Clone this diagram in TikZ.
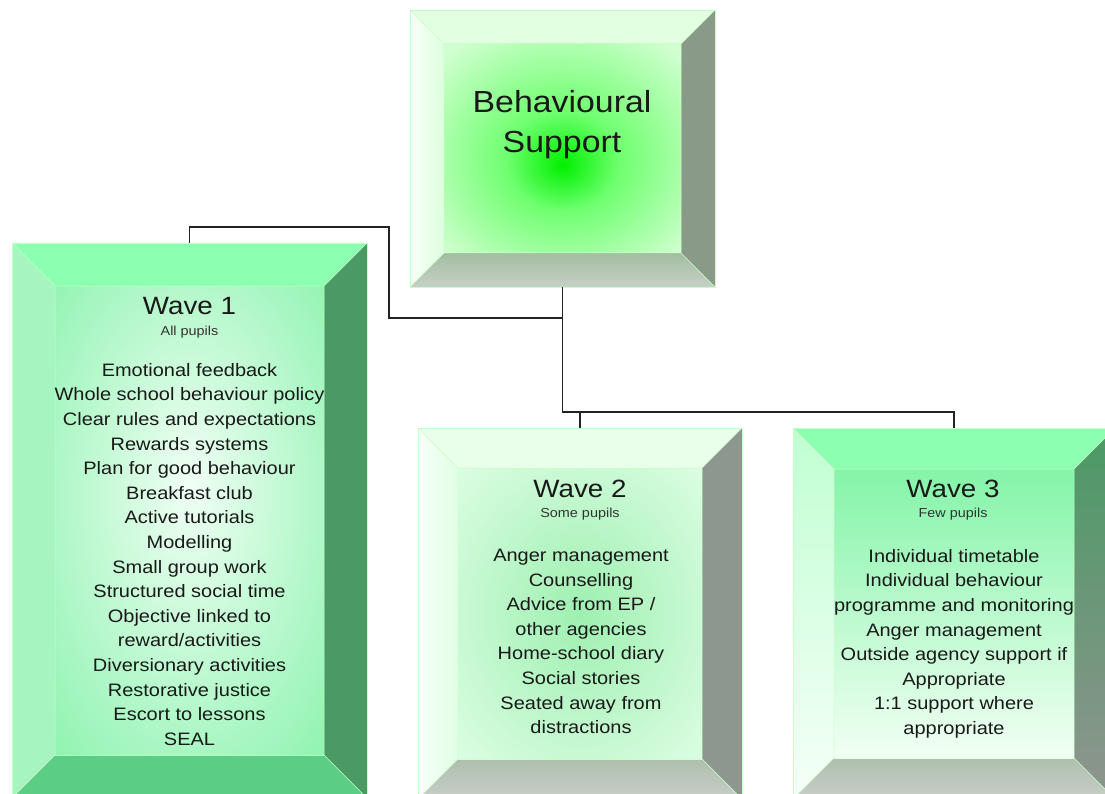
\documentclass[tikz,border=0pt]{standalone}
\usepackage{fontspec}
\setmainfont[FakeStretch=1.11]{Liberation Sans}
\usetikzlibrary{calc}

% Colours
\definecolor{boxedge}{HTML}{C6FFC6}
\definecolor{linkgray}{HTML}{222222}
\definecolor{bsTop}{HTML}{E2FFE2}
\definecolor{bsLeftA}{HTML}{F8FFF8}
\definecolor{bsLeftB}{HTML}{DEFFDE}
\definecolor{bsRight}{HTML}{899B88}
\definecolor{bsBotA}{HTML}{A3BDA3}
\definecolor{bsBotB}{HTML}{C6D0C6}
\definecolor{bsIn}{HTML}{00F000}
\definecolor{bsMid}{HTML}{70FF70}
\definecolor{bsOut}{HTML}{D0FFD0}
\definecolor{wmTop}{HTML}{8CFFB0}
\definecolor{wmLeft}{HTML}{A6F5C0}
\definecolor{wmRight}{HTML}{4B9965}
\definecolor{wmBot}{HTML}{5CCD84}
\definecolor{wmIn}{HTML}{F0FFF4}
\definecolor{wmOut}{HTML}{86F2AA}
\definecolor{wgTop}{HTML}{EAFFEA}
\definecolor{wgLeftA}{HTML}{F8FFF8}
\definecolor{wgLeftB}{HTML}{E0FFE4}
\definecolor{wgRight}{HTML}{8D978F}
\definecolor{wgBotA}{HTML}{AEBFAE}
\definecolor{wgBotB}{HTML}{C8CEC8}
\definecolor{wgIn}{HTML}{9EF0B0}
\definecolor{wgOut}{HTML}{E4FFEA}
\definecolor{wtLeftA}{HTML}{C0FFD2}
\definecolor{wtLeftB}{HTML}{F6FFF8}
\definecolor{wtRightB}{HTML}{8F958F}
\definecolor{wtFaceA}{HTML}{84F4A8}
\definecolor{wtFaceB}{HTML}{F2FFF4}

% Face glows
\pgfdeclareradialshading{bsglow}{\pgfpoint{0bp}{-4bp}}{color(0bp)=(bsIn); color(12bp)=(bsMid); color(34bp)=(bsOut); color(50bp)=(bsOut)}
\pgfdeclareradialshading{wmglow}{\pgfpoint{0bp}{4bp}}{color(0bp)=(wmIn); color(40bp)=(wmOut); color(50bp)=(wmOut)}
\pgfdeclareradialshading{wgglow}{\pgfpoint{0bp}{0bp}}{color(0bp)=(wgIn); color(40bp)=(wgOut); color(50bp)=(wgOut)}

\tikzset{
  bevel size/.store in=\bvl, bevel size=34,
  bevelbox/.style n args={5}{draw=boxedge, line width=0.6pt, inner sep=0pt,
    path picture={
      \coordinate (pNW) at (path picture bounding box.north west);
      \coordinate (pNE) at (path picture bounding box.north east);
      \coordinate (pSW) at (path picture bounding box.south west);
      \coordinate (pSE) at (path picture bounding box.south east);
      \coordinate (qNW) at ([shift={(\bvl pt,-\bvl pt)}]pNW);
      \coordinate (qNE) at ([shift={(-\bvl pt,-\bvl pt)}]pNE);
      \coordinate (qSW) at ([shift={(\bvl pt,\bvl pt)}]pSW);
      \coordinate (qSE) at ([shift={(-\bvl pt,\bvl pt)}]pSE);
      \path[#1] (pNW) -- (pNE) -- (qNE) -- (qNW) -- cycle;
      \path[#2] (pNW) -- (qNW) -- (qSW) -- (pSW) -- cycle;
      \path[#3] (pNE) -- (pSE) -- (qSE) -- (qNE) -- cycle;
      \path[#4] (pSW) -- (qSW) -- (qSE) -- (pSE) -- cycle;
      \path[#5] (qNW) rectangle (qSE);
      \draw[boxedge, line width=0.5pt] (pNW) -- (qNW) (pNE) -- (qNE)
        (pSW) -- (qSW) (pSE) -- (qSE) (qNW) rectangle (qSE);
    }},
  headtext/.style={font=\fontsize{25}{30}\selectfont, text=black!90, anchor=base},
  subtext/.style={font=\fontsize{13}{15}\selectfont, text=black!80, anchor=base},
  listtext/.style={font=\fontsize{18}{24.6}\selectfont, text=black!90, align=center,
    anchor=north, inner sep=0pt},
  link/.style={draw=linkgray, line width=1.2pt}
}

\begin{document}
\begin{tikzpicture}[x=1pt, y=-1pt]
    \useasboundingbox (0,0) rectangle (1105,794);
    \clip (0,0) rectangle (1105,794);

    % Draw boxes
    \node[bevelbox={fill=bsTop}{left color=bsLeftA, right color=bsLeftB}{fill=bsRight}%
      {top color=bsBotA, bottom color=bsBotB}{shade, shading=bsglow},
      bevel size=34, minimum width=305pt, minimum height=277pt] (bs) at (562.5,148.5) {};
    \node[bevelbox={fill=wmTop}{fill=wmLeft}{fill=wmRight}{fill=wmBot}%
      {shade, shading=wmglow},
      bevel size=43, minimum width=355pt, minimum height=555pt] (w1) at (189.5,520.5) {};
    \node[bevelbox={fill=wgTop}{left color=wgLeftA, right color=wgLeftB}{fill=wgRight}%
      {top color=wgBotA, bottom color=wgBotB}{shade, shading=wgglow},
      bevel size=40, minimum width=324pt, minimum height=371pt] (w2) at (580,613.5) {};
    \node[bevelbox={fill=wmTop}{top color=wtLeftA, bottom color=wtLeftB}%
      {top color=wmRight, bottom color=wtRightB}{top color=wgBotA, bottom color=wgBotB}%
      {top color=wtFaceA, bottom color=wtFaceB},
      bevel size=41, minimum width=322pt, minimum height=371pt] (w3) at (954,613.5) {};

    % Draw connections
    \coordinate (k1) at (389,318);
    \coordinate (k2) at (w1.north |- 0,227);
    \coordinate (k3) at (w3.north |- 0,412);
    \coordinate (k4) at (w2.north |- 0,412);
    \draw[link] (bs.south) |- (k1) |- (k2) -- (w1.north);
    \draw[link] (bs.south) |- (k3) -- (w3.north);
    \draw[link] (k4) -- (w2.north);

    % Labels
    \node[font=\fontsize{30.5}{40}\selectfont, text=black!90, align=center, anchor=north,
      inner sep=0pt] (bsT) at (562,90) {Behavioural\\Support};

    \node[headtext] (w1h) at (189.5,314) {Wave 1};
    \node[subtext] (w1s) at (189.5,335) {All pupils};
    \node[listtext] (w1l) at (189.5,363) {Emotional feedback\\Whole school behaviour policy\\
      Clear rules and expectations\\Rewards systems\\Plan for good behaviour\\
      Breakfast club\\Active tutorials\\Modelling\\Small group work\\
      Structured social time\\Objective linked to\\reward/activities\\
      Diversionary activities\\Restorative justice\\Escort to lessons\\SEAL};

    \node[headtext] (w2h) at (580,497) {Wave 2};
    \node[subtext] (w2s) at (580,517) {Some pupils};
    \node[listtext] (w2l) at (581,549) {Anger management\\Counselling\\Advice from EP /\\
      other agencies\\Home-school diary\\Social stories\\Seated away from\\distractions};

    \node[headtext] (w3h) at (953,497) {Wave 3};
    \node[subtext] (w3s) at (953,517) {Few pupils};
    \node[listtext] (w3l) at (954,549) {Individual timetable\\Individual behaviour\\
      programme and monitoring\\Anger management\\Outside agency support if\\
      Appropriate\\1:1 support where\\appropriate};
\end{tikzpicture}
\end{document}
